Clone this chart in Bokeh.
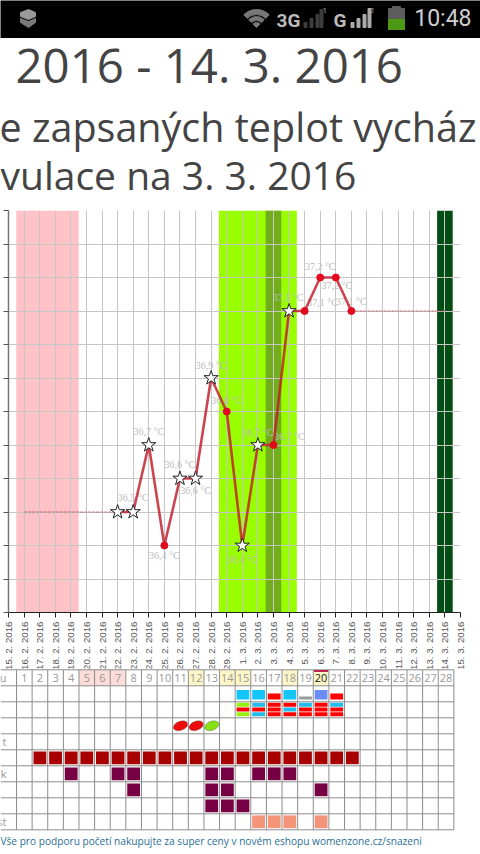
import math
from bokeh.plotting import figure
from bokeh.layouts import column, row
from bokeh.models import (ColumnDataSource, FixedTicker, LabelSet, Range1d)
from bokeh.core.properties import value
from bokeh.embed import file_html
from bokeh.resources import INLINE

# ---- data -------------------------------------------------------------
date_labels = ["15. 2. 2016","16. 2. 2016","17. 2. 2016","18. 2. 2016","19. 2. 2016","20. 2. 2016",
 "21. 2. 2016","22. 2. 2016","23. 2. 2016","24. 2. 2016","25. 2. 2016","26. 2. 2016","27. 2. 2016",
 "28. 2. 2016","29. 2. 2016","1. 3. 2016","2. 3. 2016","3. 3. 2016","4. 3. 2016","5. 3. 2016",
 "6. 3. 2016","7. 3. 2016","8. 3. 2016","9. 3. 2016","10. 3. 2016","11. 3. 2016","12. 3. 2016",
 "13. 3. 2016","14. 3. 2016","15. 3. 2016"]
y_ticks = [36.2,36.3,36.4,36.5,36.6,36.7,36.8,36.9,37.0,37.1,37.2,37.3,37.4]
temp_days  = [7,8,9,10,11,12,13,14,15,16,17,18,19,20,21,22,23]
temp_vals  = [36.5,36.5,36.7,36.4,36.6,36.6,36.9,36.8,36.4,36.7,36.7,37.1,37.1,37.2,37.2,37.1,37.1]
temp_star  = [1,1,1,0,1,1,1,0,1,1,0,1,0,0,0,0,None]
temp_text  = ["","36,5 °C","36,7 °C","36,4 °C","36,6 °C","36,6 °C","36,9 °C","36,8 °C","36,4 °C",
              "36,7 °C","36,7 °C","37,1 °C","37,1 °C","37,2 °C","37,2 °C","37,1 °C",""]
text_dx = [0,0,0,0,0,0,0,0,0,0,16,-1,18,0,1,0,0]
text_dy = [0,-15,-14,10,-14,12,-13,-11,14,-13,-9,-14,-9,-11,8,-10,0]
early_days, early_vals = [1,7], [36.5,36.5]
late_days,  late_vals  = [22,28], [37.1,37.1]
band_days   = [(1,4),(14,18),(17,17),(28,28)]
band_colors = ["#ffc2c6","#99ff00","#72ad1d","#014d14"]

cycle_days  = list(range(1,29))
pink_days   = [5,6,7]
yellow_days = [12,14,15,18,20]
flow_days   = list(range(2,23))
k_days      = [4,7,8,13,14,16,17,18]
row7_days   = [8,13,14,20]
row8_days   = [13,14,15]
row9_days   = [16,17,18,20]
top_days    = [15,16,17,18,19,20,21]
top_colors  = ["#14c5fb","#14c5fb","#ff0000","#14c5fb","#999999","#6a8cf7","#ff0000"]
top_heights = [9.3,9.3,6,9.3,3,9.3,6]
stripe_days = top_days
stripe_1 = ["#99ee11","#22bbee","#ff0000","#ff0000","#22bbee","#ff0000","#22bbee"]
stripe_2 = ["#ff0000","#ff0000","#ff0000","#22bbee","#ff0000","#ff0000","#ff0000"]
stripe_3 = ["#99ee11","#22bbee","#ff0000","#ff0000","#ff0000","#ff0000","#ff0000"]
leaf_days, leaf_colors = [11,12,13], ["#ee0a0a","#ee0a0a","#88e010"]
row_labels = ["u","","","","t","","k","","","st"]
FONT = value("Open Sans")

def blank(h, xr, yr, bg="white"):
    f = figure(width=480, height=h, x_range=xr, y_range=yr, x_axis_type=None, y_axis_type=None,
               toolbar_location=None, output_backend="svg", min_border=0,
               background_fill_color=bg, border_fill_color=bg, outline_line_color=None)
    f.grid.visible = False
    return f

# ---- status bar --------------------------------------------------------
s = blank(38, Range1d(0,480), Range1d(38,0), "#000000")
s.patch([20,28,35,35,28,20],[12,9,12,16,19,16], color="#9a9a9a")
s.patch([20,28,35,35,28,20],[18,21,18,22,27,22], color="#7a7a7a")
s.annular_wedge([256,256,256],[27,27,27],[0,7,13],[5,11,18],[math.pi*0.25]*3,[math.pi*0.75]*3,
                inner_radius_units="screen", outer_radius_units="screen", color="#777777")
s.text([276],[20],["3G"],text_font=value("Roboto"),text_font_size="19px",text_font_style="bold",text_color="#bdbdbd",text_baseline="alphabetic")
s.text([333],[20],["G"],text_font=value("Roboto"),text_font_size="19px",text_font_style="bold",text_color="#bdbdbd",text_baseline="alphabetic")
s.vbar([305,311,317,321],[3,3,3,3],[27,27,27,27],[22,18,14,9],color="#3c3c3c")
s.vbar([352,358,364,369],[3,3,3,3],[27,27,27,27],[22,18,14,8],color="#aaaaaa")
s.text([322],[10],["1"],text_font=value("Roboto"),text_font_size="8px",text_color="#aaaaaa",text_baseline="alphabetic")
s.text([369],[10],["2"],text_font=value("Roboto"),text_font_size="8px",text_color="#aaaaaa",text_baseline="alphabetic")
s.quad([388],[404],[8],[29],color="#5d5d5d")
s.quad([392],[400],[6],[8],color="#5d5d5d")
s.quad([388],[404],[19],[29],color="#4c9a14")
s.text([471],[18],["10:48"],text_align="right",text_font=value("Roboto"),text_font_size="23px",text_color="#cfcfcf",text_baseline="alphabetic")

# ---- headings ----------------------------------------------------------
t = blank(170, Range1d(0,480), Range1d(208,38))
t.text([15],[64],["2016 - 14. 3. 2016"],text_font=FONT,text_font_size="47.4px",text_color="#444444",text_baseline="alphabetic")
t.text([-1],[126],["e zapsaných teplot vycház"],text_font=FONT,text_font_size="39.5px",text_color="#444444",text_baseline="alphabetic")
t.text([0],[174],["vulace na 3. 3. 2016"],text_font=FONT,text_font_size="39px",text_color="#444444",text_baseline="alphabetic")

# ---- chart -------------------------------------------------------------
p = figure(width=480, height=464, x_range=Range1d(0,29), y_range=Range1d(36.2,37.4),
           toolbar_location=None, output_backend="svg", min_border_left=8, min_border_right=20,
           min_border_top=2, min_border_bottom=55, outline_line_color=None)
p.xaxis.ticker = FixedTicker(ticks=list(range(30)))
p.xaxis.major_label_overrides = {i:l for i,l in enumerate(date_labels)}
p.xaxis.major_label_orientation = math.pi/2
p.xaxis.major_label_text_font = "Liberation Sans"
p.xaxis.major_label_text_font_size = "9.7px"
p.xaxis.major_label_text_color = "#555555"
p.xaxis.major_label_standoff = 4
p.xaxis.major_tick_out = 5
p.xaxis.major_tick_in = 0
p.xaxis.minor_tick_line_color = None
p.xaxis.axis_line_color = "#222222"
p.xaxis.major_tick_line_color = "#222222"
p.yaxis.ticker = FixedTicker(ticks=y_ticks)
p.yaxis.major_label_overrides = {v:"" for v in y_ticks}
p.yaxis.major_label_text_font_size = "1px"
p.yaxis.major_label_standoff = 0
p.yaxis.major_tick_out = 5
p.yaxis.major_tick_in = 0
p.yaxis.minor_tick_line_color = None
p.yaxis.axis_line_color = "#777777"
p.yaxis.axis_line_width = 1.5
p.yaxis.major_tick_line_color = "#555555"
p.grid.level = "glyph"
p.xgrid.ticker = FixedTicker(ticks=list(range(30)))
p.ygrid.ticker = FixedTicker(ticks=y_ticks)
p.grid.grid_line_color = "#c6c6c6"
p.grid.grid_line_width = 1
for (a,b),c in zip(band_days, band_colors):
    p.quad(left=[a-0.5], right=[b+0.5], bottom=[36.2], top=[37.4], color=c, line_color=None, level="underlay")
p.line(early_days, early_vals, line_color="#b0303c", line_width=1, line_alpha=0.6, line_dash="3 1", level="overlay")
p.line(late_days, late_vals, line_color="#b0303c", line_width=1, line_alpha=0.6, line_dash="3 1", level="overlay")
p.line(temp_days[:-1], temp_vals[:-1], line_color="#c01c2a", line_width=2.6, line_alpha=0.82, level="overlay")
dots = ColumnDataSource(dict(x=[d for d,f in zip(temp_days,temp_star) if f==0],
                             y=[v for v,f in zip(temp_vals,temp_star) if f==0]))
stars = ColumnDataSource(dict(x=[d for d,f in zip(temp_days,temp_star) if f==1],
                              y=[v for v,f in zip(temp_vals,temp_star) if f==1]))
p.scatter("x","y",source=dots,size=7,color="#e30a1e",level="overlay")
p.scatter("x","y",source=stars,marker="star",size=15,fill_color="white",line_color="#222222",line_width=1,level="overlay")
lab = ColumnDataSource(dict(x=temp_days,y=temp_vals,t=temp_text,dx=text_dx,dy=[-d for d in text_dy]))
p.add_layout(LabelSet(x="x",y="y",text="t",x_offset="dx",y_offset="dy",source=lab,text_align="center",
                      text_baseline="middle",text_font="Open Sans",text_font_size="10px",text_color="#bbbbbb"))
ylab = ColumnDataSource(dict(x=[-0.33]*len(y_ticks[1:-1]),y=y_ticks[1:-1],t=[f"{v:.1f} °C".replace(".",",") for v in y_ticks[1:-1]]))
p.add_layout(LabelSet(x="x",y="y",text="t",source=ylab,text_align="right",text_baseline="middle",
                      text_font="Open Sans",text_font_size="9.5px",text_color="#777777"))

# ---- table -------------------------------------------------------------
cw = 15.62
q = blank(182, Range1d(-16/cw, 464/cw), Range1d((850-669.3)/16, -1.3/16))
def cells(days, rows, color, pad=0.09, h=0.8):
    q.quad(left=[d-1+pad for d in days], right=[d-pad for d in days],
           top=[r+(1-h)/2 for r in rows], bottom=[r+(1+h)/2 for r in rows], color=color, line_color=None)
q.quad(left=[d-1 for d in pink_days], right=pink_days, top=[0]*3, bottom=[1]*3, color="#fbdcd8", line_color=None)
q.quad(left=[d-1 for d in yellow_days], right=yellow_days, top=[0]*5, bottom=[1]*5, color="#fdf7c8", line_color=None)
q.segment([-16/cw]*11, list(range(11)), [28]*11, list(range(11)), line_color="#8c8c8c", line_width=1)
q.segment(list(range(29)), [0]*29, list(range(29)), [10]*29, line_color="#8c8c8c", line_width=1)
q.text(x=[d-0.5 for d in cycle_days], y=[0.5]*28, text=[str(d) for d in cycle_days], text_align="center",
       text_baseline="middle", text_font=FONT, text_font_size="11px",
       text_color=["#222222" if d==20 else "#999999" for d in cycle_days])
q.quad(left=[19.05], right=[19.95], top=[0.02], bottom=[0.14], color="#c02050", line_color=None)
q.text(x=[(-16+6)/cw]*10, y=[r+0.5 for r in range(10)], text=row_labels, text_align="right",
       text_baseline="middle", text_font=FONT, text_font_size="11px", text_color="#999999")
cells(flow_days,[5]*len(flow_days),"#a80000")
cells(k_days,[6]*len(k_days),"#770044")
cells(row7_days,[7]*len(row7_days),"#770044")
cells(row8_days,[8]*len(row8_days),"#770044")
cells(row9_days,[9]*len(row9_days),"#f49478")
q.quad(left=[d-1+.09 for d in top_days], right=[d-.09 for d in top_days], top=[1.85-h/16 for h in top_heights],
       bottom=[1.85]*7, fill_color=top_colors, line_color=None)
for i,cs in enumerate([stripe_1,stripe_2,stripe_3]):
    q.quad(left=[d-1+.09 for d in stripe_days], right=[d-.09 for d in stripe_days],
           top=[2.06+i*0.3]*7, bottom=[2.31+i*0.3]*7, fill_color=cs, line_color=None)
q.ellipse([d-0.5 for d in leaf_days],[3.5]*3,width=15,height=9,width_units="screen",height_units="screen",
          angle=[0.35]*3,fill_color=leaf_colors,line_color="#555555",line_width=0.4)
q.text([-16/cw],[10.72],["Vše pro podporu početí nakupujte za super ceny v novém eshopu womenzone.cz/snazeni"],
       text_baseline="middle",text_font=FONT,text_font_size="10.15px",text_color="#2a6f97")

layout = column(row(s),row(t),row(p),row(q,styles={"position":"relative","top":"-4px"}),spacing=0,
                styles={"position":"absolute","left":"0px","top":"0px","width":"480px","height":"854px"})
open("out.html","w").write(file_html(layout,INLINE))
